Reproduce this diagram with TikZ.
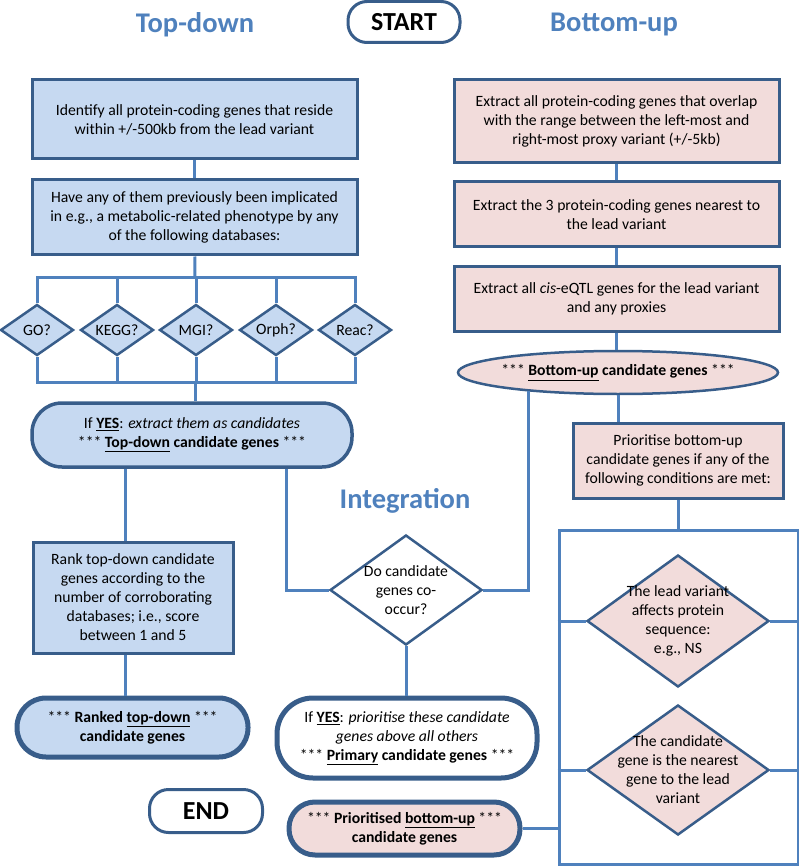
\documentclass[tikz,border=0pt]{standalone}
\usepackage{fontspec}
\setmainfont{Carlito}
\usetikzlibrary{shapes.geometric}
\definecolor{lineblue}{HTML}{4F81BD}
\definecolor{edgeblue}{HTML}{385D8A}
\definecolor{tdfill}{HTML}{C6D9F1}
\definecolor{bufill}{HTML}{F2DCDB}
\def\link{\draw[link]}
\def\yes{\underline{\textbf{YES}}}

\begin{document}
\begin{tikzpicture}[x=1pt,y=-1pt,
  every node/.style={font=\fontsize{15.7}{19}\selectfont, align=center, inner sep=0pt},
  link/.style={draw=lineblue, line width=3pt},
  box/.style={rectangle, draw=edgeblue, line width=3pt},
  tdbox/.style={box, fill=tdfill},
  bubox/.style={box, fill=bufill},
  dia/.style={diamond, draw=edgeblue, line width=2.5pt},
  stadium/.style={rectangle, rounded corners=#1, draw=edgeblue},
  endpoint/.style={stadium=19, line width=3pt, fill=white, font=\fontsize{26}{30}\bfseries\selectfont},
  heading/.style={font=\fontsize{28.5}{33}\bfseries\selectfont, text=lineblue}]
\useasboundingbox (0,0) rectangle (799,866);

\node[heading] (tdhead) at (195,25) {Top-down};
\node[heading] (buhead) at (614,25) {Bottom-up};
\node[heading] (inthead) at (405,501) {Integration};
\node[endpoint, minimum width=112, minimum height=41] (start) at (404,22) {START};
\node[endpoint, minimum width=113, minimum height=43] (end) at (206,811) {END};

% -------- top-down ---------
\node[tdbox, minimum width=325, minimum height=79] (td1) at (194.5,119.5)
  {Identify all protein-coding genes that reside\\within +/-500kb from the lead variant};
\node[tdbox, minimum width=325, minimum height=75] (td2) at (194.5,217.5)
  {Have any of them previously been implicated\\in e.g., a metabolic-related phenotype by any\\of the following databases:};
\link (td1) -- (td2);

% the five databases hang between two bars
\coordinate (bustop) at (195,277);
\coordinate (busbot) at (195,382);
\node[dia, aspect=1.43, minimum width=73, minimum height=51, fill=tdfill] (go) at (37,330) {GO?};
\node[dia, aspect=1.43, minimum width=73, minimum height=51, fill=tdfill] (kegg) at (117,330) {KEGG?};
\node[dia, aspect=1.43, minimum width=73, minimum height=51, fill=tdfill] (mgi) at (196,330) {MGI?};
\node[dia, aspect=1.43, minimum width=73, minimum height=51, fill=tdfill] (orph) at (276,330) {Orph?};
\node[dia, aspect=1.43, minimum width=73, minimum height=51, fill=tdfill] (reac) at (355,330) {Reac?};
\link (td2) -- (bustop);
\link (go.north) |- (reac.north |- bustop) -- (reac.north);
\link (kegg.north) -- (kegg.north |- bustop);
\link (mgi.north) -- (mgi.north |- bustop);
\link (orph.north) -- (orph.north |- bustop);
\link (go.south) |- (reac.south |- busbot) -- (reac.south);
\link (kegg.south) -- (kegg.south |- busbot);
\link (mgi.south) -- (mgi.south |- busbot);
\link (orph.south) -- (orph.south |- busbot);

\node[stadium=30, line width=3.5pt, fill=tdfill, minimum width=320, minimum height=64] (tdcand) at (192,435)
  {If \yes: \textit{extract them as candidates}\\*** \underline{\textbf{Top-down}} \textbf{candidate genes} ***};
\link (busbot) -- (busbot |- tdcand.north);

\coordinate (tdx) at (125,500);
\node[tdbox, minimum width=200, minimum height=111] (rank) at (133,597.5)
  {Rank top-down candidate\\genes according to the\\number of corroborating\\databases; i.e., score\\between 1 and 5};
\node[stadium=29, line width=5pt, fill=tdfill, minimum width=231, minimum height=59] (ranked) at (132.5,727.5)
  {*** \textbf{Ranked \underline{top-down}} ***\\\textbf{candidate genes}};
\link (tdcand.south -| tdx) -- (rank.north -| tdx);
\link (rank.south -| tdx) -- (ranked.north -| tdx);

% -------- bottom-up ---------
\node[bubox, minimum width=325, minimum height=83] (bu1) at (616.5,121.5)
  {Extract all protein-coding genes that overlap\\with the range between the left-most and\\right-most proxy variant (+/-5kb)};
\node[bubox, minimum width=325, minimum height=65] (bu2) at (616.5,214.5)
  {Extract the 3 protein-coding genes nearest to\\the lead variant};
\node[bubox, minimum width=325, minimum height=64] (bu3) at (616.5,299)
  {Extract all \textit{cis}-eQTL genes for the lead variant\\and any proxies};
\node[ellipse, draw=edgeblue, line width=2.5pt, fill=bufill, minimum width=320, minimum height=43] (bucand) at (618,372.5) {};
\node (bucandtext) at (bucand) {*** \underline{\textbf{Bottom-up}} \textbf{candidate genes} ***};
\link (bu1) -- (bu2);
\link (bu2) -- (bu3);
\link (bu3.south) -- (bu3.south |- bucand.north);

\node[bubox, minimum width=210, minimum height=75] (bu4) at (678,460.5)
  {Prioritise bottom-up\\candidate genes if any of the\\following conditions are met:};
\link (bucand.south) -- (bucand.south |- bu4.north);

% the two conditions sit in an open frame
\node[draw=lineblue, line width=3pt, minimum width=239, minimum height=334] (cond) at (678.5,697) {};
\link (bu4.south) -- (bu4.south |- cond.north);
\node[dia, minimum width=182, minimum height=132, fill=bufill] (nsq) at (678,621) {};
\node (nsqtext) at (nsq) {The lead variant\\affects protein\\sequence:\\e.g., NS};
\node[dia, minimum width=182, minimum height=130, fill=bufill] (near) at (678,770) {};
\node (neartext) at (near) {The candidate\\gene is the nearest\\gene to the lead\\variant};
\link (cond.west |- nsq) -- (nsq.west);
\link (nsq.east) -- (cond.east |- nsq);
\link (cond.west |- near) -- (near.west);
\link (near.east) -- (cond.east |- near);

\node[stadium=26, line width=5pt, fill=bufill, minimum width=231, minimum height=53] (prio) at (404.5,828.5)
  {*** \textbf{Prioritised \underline{bottom-up}} ***\\\textbf{candidate genes}};
\link (prio.east) -- (prio.east -| cond.west);

% -------- integration ---------
\coordinate (intx) at (286,500);
\node[dia, minimum width=152, minimum height=110, fill=white] (cooc) at (406,590) {};
\node (cooctext) at (cooc) {Do candidate\\genes co-\\occur?};
\link (tdcand.south -| intx) |- (cooc.west);
\link (bucand.192) |- (cooc.east);

\node[stadium=36, line width=5pt, fill=white, minimum width=260, minimum height=80] (primary) at (407,738)
  {If \yes: \textit{prioritise these candidate}\\\textit{genes above all others}\\*** \underline{\textbf{Primary}} \textbf{candidate genes} ***};
\link (cooc.south) -- (cooc.south |- primary.north);
\end{tikzpicture}
\end{document}
